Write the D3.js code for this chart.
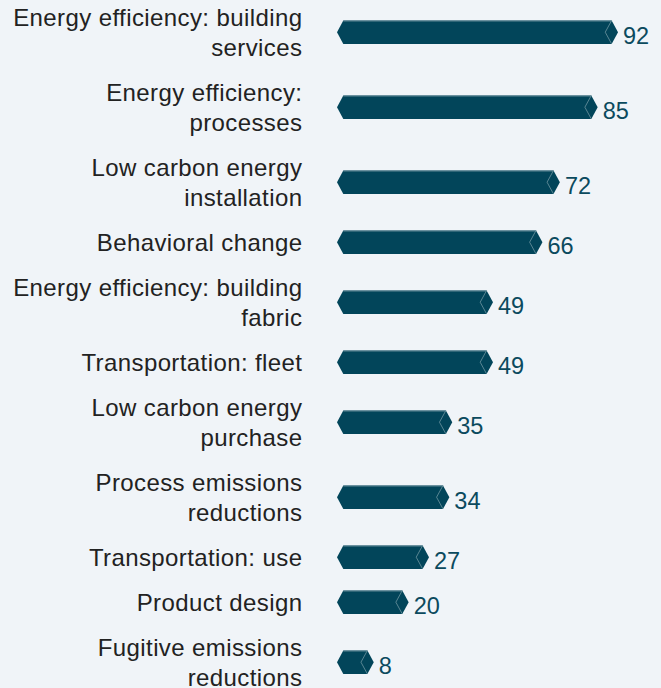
<!DOCTYPE html>
<html>
<head>
<meta charset="utf-8">
<script src="https://cdn.jsdelivr.net/npm/d3@7"></script>
<style>
  html, body { margin: 0; padding: 0; background: #f0f4f8; }
  svg { display: block; }
</style>
</head>
<body>
<svg id="chart" width="661" height="688"></svg>
<script>
// ---- data ----
const categories = [
  ["Energy efficiency: building", "services"],
  ["Energy efficiency:", "processes"],
  ["Low carbon energy", "installation"],
  ["Behavioral change"],
  ["Energy efficiency: building", "fabric"],
  ["Transportation: fleet"],
  ["Low carbon energy", "purchase"],
  ["Process emissions", "reductions"],
  ["Transportation: use"],
  ["Product design"],
  ["Fugitive emissions", "reductions"]
];
const values = [92, 85, 72, 66, 49, 49, 35, 34, 27, 20, 8];

// ---- layout ----
const W = 661, H = 688;
const svg = d3.select("#chart");
svg.append("rect").attr("width", W).attr("height", H).attr("fill", "#f0f4f8");

// vertical flow layout in "half-line" units: each label line = 2 units, gap between rows = 1 unit
const rows = categories.map((lines, i) => ({ lines, value: values[i] }));
let acc = 0;
rows.forEach(r => { r.start = acc; r.center = acc + r.lines.length; acc += r.lines.length * 2 + 1; });
const totalUnits = acc;
const unitPx = 15;
const y = d3.scaleLinear().domain([0, totalUnits]).range([2.2, 2.2 + totalUnits * unitPx]);

const x = d3.scaleLinear().domain([0, 100]).range([350.5, 641.3]);

const barH = 23.4;
const tipW = 6.4;
const barColor = "#02455a";
const textColor = "#222222";
const valueColor = "#0b4a5e";
const font = "'Liberation Sans', Arial, Helvetica, sans-serif";

const g = svg.append("g");

const row = g.selectAll("g.row").data(rows).join("g").attr("class", "row");

// category labels
row.append("text")
  .attr("text-anchor", "end")
  .attr("font-family", font)
  .attr("font-size", 24)
  .attr("letter-spacing", 0.4)
  .attr("fill", textColor)
  .selectAll("tspan")
  .data(d => d.lines.map((t, k) => ({ t, k, n: d.lines.length, c: d.center })))
  .join("tspan")
  .attr("x", 302.4)
  .attr("y", d => y(d.c) + (d.k - (d.n - 1) / 2) * 2 * unitPx + 8.6)
  .text(d => d.t);

// hexagonal bars
function barPath(d) {
  const c = y(d.center);
  const t = c - barH / 2, b = c + barH / 2;
  const x0 = x(0), x1 = x(d.value);
  return `M${x0 - 13.5},${c} L${x0 - 7.2},${t} L${x1 - tipW},${t} L${x1},${c} L${x1 - tipW},${b} L${x0 - 7.2},${b} Z`;
}
row.append("path")
  .attr("d", barPath)
  .attr("fill", barColor);

// top highlight edge
row.append("line")
  .attr("x1", d => x(0) - 7.2)
  .attr("x2", d => x(d.value) - tipW)
  .attr("y1", d => y(d.center) - barH / 2 + 0.5)
  .attr("y2", d => y(d.center) - barH / 2 + 0.5)
  .attr("stroke", "#5f8794")
  .attr("stroke-width", 1);

// inner chevron
row.append("path")
  .attr("d", d => {
    const c = y(d.center), t = c - barH / 2, b = c + barH / 2, x1 = x(d.value);
    return `M${x1 - tipW},${t} L${x1 - 2 * tipW},${c} L${x1 - tipW},${b}`;
  })
  .attr("fill", "none")
  .attr("stroke", "#6f95a1")
  .attr("stroke-width", 0.8);

// value labels
row.append("text")
  .attr("x", d => x(d.value) + 5)
  .attr("y", d => y(d.center) + barH / 2)
  .attr("font-family", font)
  .attr("font-size", 23.5)
  .attr("fill", valueColor)
  .text(d => d.value);
</script>
</body>
</html>
